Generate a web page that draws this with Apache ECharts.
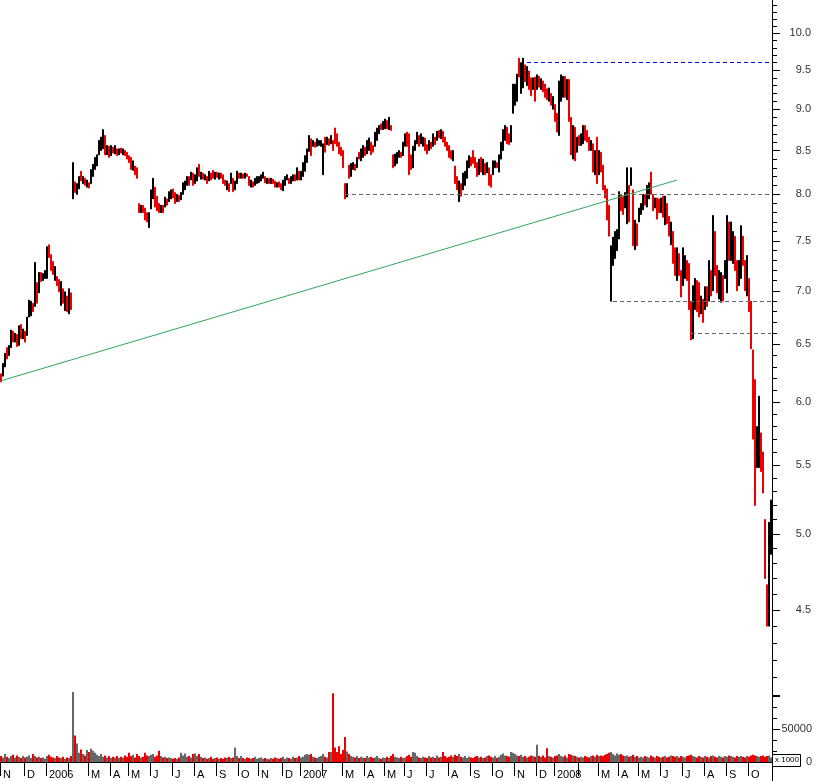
<!DOCTYPE html>
<html><head><meta charset="utf-8">
<script src="https://cdn.jsdelivr.net/npm/echarts@6/dist/echarts.min.js"></script>
<style>html,body{margin:0;padding:0;background:#fff}#c{width:817px;height:781px}</style>
</head><body><div id="c"></div>
<script>
// ---- data (one bar per ~2 trading days, Nov 2005 - Oct 2008) ----
const opens=[
6.24,6.22,6.30,6.47,6.40,6.47,6.62,6.52,6.59,6.49,
6.68,6.55,6.62,6.58,6.75,6.76,6.88,6.85,7.08,6.98,
7.18,7.10,7.12,7.12,7.46,7.36,7.29,7.10,7.14,7.11,
6.86,7.02,6.81,6.95,6.78,6.98,7.95,8.14,8.00,8.06,
8.26,8.12,8.18,8.08,8.13,8.12,8.20,8.28,8.32,8.45,
8.50,8.52,8.68,8.45,8.55,8.44,8.54,8.46,8.52,8.45,
8.53,8.45,8.50,8.48,8.44,8.42,8.27,8.32,8.30,7.90,
7.80,7.88,7.85,7.80,7.64,7.84,7.95,8.08,7.98,7.90,
7.80,7.88,7.86,7.95,7.92,7.95,8.06,8.02,7.92,7.99,
7.94,8.00,8.05,8.10,8.20,8.16,8.24,8.12,8.15,8.34,
8.17,8.24,8.16,8.20,8.15,8.24,8.27,8.17,8.25,8.17,
8.24,8.22,8.16,8.05,8.12,8.12,8.18,8.05,8.12,8.24,
8.18,8.23,8.18,8.23,8.20,8.08,8.14,8.10,8.12,8.13,
8.15,8.18,8.20,8.12,8.18,8.12,8.17,8.15,8.08,8.14,
8.12,8.04,8.10,8.16,8.18,8.12,8.15,8.22,8.16,8.26,
8.16,8.20,8.26,8.36,8.49,8.64,8.55,8.60,8.55,8.56,
8.55,8.22,8.66,8.57,8.64,8.58,8.62,8.77,8.70,8.60,
8.54,8.50,8.12,7.97,8.33,8.20,8.28,8.34,8.30,8.48,
8.38,8.42,8.54,8.46,8.50,8.60,8.56,8.55,8.62,8.70,
8.82,8.75,8.76,8.86,8.75,8.80,8.45,8.32,8.35,8.42,
8.48,8.44,8.55,8.72,8.70,8.45,8.30,8.50,8.58,8.68,
8.58,8.55,8.65,8.57,8.50,8.60,8.55,8.66,8.62,8.74,
8.64,8.73,8.66,8.60,8.56,8.50,8.38,8.32,8.20,7.92,
8.12,8.05,8.10,8.18,8.30,8.42,8.50,8.42,8.36,8.22,
8.42,8.22,8.35,8.24,8.30,8.22,8.22,8.30,8.36,8.25,
8.40,8.50,8.62,8.78,8.70,8.60,8.95,9.05,9.10,9.66,
9.20,9.27,9.57,9.30,9.49,9.40,9.25,9.41,9.25,9.42,
9.25,9.36,9.32,9.26,9.10,9.20,9.00,9.06,8.95,8.68,
9.10,9.15,9.42,9.12,9.38,8.90,8.40,8.78,8.48,8.68,
8.56,8.58,8.80,8.74,8.66,8.50,8.58,8.22,8.66,8.22,
8.48,8.33,8.10,8.06,7.88,6.90,7.25,7.32,7.40,7.52,
8.00,7.98,7.85,7.68,8.10,8.10,8.05,7.41,7.68,7.70,
7.78,7.83,8.00,7.86,7.95,8.25,8.00,7.85,7.96,7.95,
7.80,7.98,7.67,7.90,7.76,7.46,7.60,7.43,7.10,7.37,
7.20,7.05,7.12,7.30,7.27,6.90,6.55,6.82,7.10,7.08,
6.78,6.92,6.82,7.04,6.90,7.20,7.00,7.60,7.25,6.92,
6.89,7.15,7.12,6.98,7.70,7.30,7.27,7.55,7.30,7.05,
7.12,7.55,7.30,6.95,7.12,6.90,6.45,6.19,5.48,5.48,
5.75,5.60,5.10,4.66,4.40,4.86];
const closes=[
6.17,6.33,6.42,6.37,6.49,6.63,6.52,6.60,6.48,6.67,
6.55,6.64,6.52,6.75,6.91,6.90,6.80,7.28,6.88,7.18,
7.09,7.17,7.20,7.44,7.33,7.20,7.16,7.24,7.05,6.99,
7.09,6.88,6.99,6.80,7.02,6.82,8.36,8.02,8.12,8.20,
8.15,8.20,8.10,8.16,8.07,8.28,8.34,8.42,8.45,8.62,
8.66,8.75,8.45,8.56,8.42,8.56,8.47,8.56,8.44,8.52,
8.47,8.52,8.44,8.40,8.36,8.28,8.38,8.22,8.18,7.80,
7.88,7.80,7.72,7.70,7.80,8.05,8.18,7.86,7.82,7.80,
7.88,7.80,7.97,7.88,8.03,8.05,7.96,7.90,8.00,7.92,
8.02,8.13,8.15,8.20,8.10,8.25,8.10,8.22,8.30,8.20,
8.25,8.17,8.22,8.12,8.26,8.16,8.18,8.25,8.19,8.24,
8.18,8.12,8.10,8.15,8.03,8.24,8.03,8.15,8.26,8.18,
8.24,8.18,8.24,8.20,8.10,8.16,8.08,8.18,8.20,8.20,
8.22,8.25,8.13,8.18,8.12,8.18,8.12,8.08,8.13,8.08,
8.05,8.16,8.20,8.22,8.12,8.20,8.22,8.15,8.30,8.16,
8.26,8.36,8.44,8.52,8.68,8.44,8.62,8.54,8.64,8.62,
8.62,8.58,8.48,8.66,8.56,8.68,8.50,8.58,8.55,8.46,
8.44,8.30,7.95,8.12,8.18,8.35,8.36,8.27,8.42,8.40,
8.52,8.56,8.44,8.62,8.65,8.45,8.48,8.72,8.77,8.80,
8.75,8.85,8.88,8.76,8.90,8.74,8.30,8.46,8.48,8.50,
8.42,8.60,8.70,8.55,8.22,8.28,8.55,8.62,8.72,8.55,
8.70,8.66,8.50,8.46,8.62,8.52,8.70,8.57,8.73,8.65,
8.75,8.60,8.55,8.50,8.42,8.40,8.50,8.12,8.05,8.15,
7.98,8.24,8.26,8.38,8.44,8.32,8.35,8.30,8.20,8.40,
8.25,8.40,8.22,8.36,8.10,8.08,8.38,8.38,8.30,8.45,
8.60,8.75,8.80,8.58,8.57,8.80,9.32,9.32,9.45,9.41,
9.60,9.66,9.35,9.55,9.25,9.17,9.40,9.10,9.44,9.28,
9.39,9.22,9.15,9.12,9.27,9.05,9.16,8.85,8.72,9.36,
9.44,9.42,9.15,9.38,8.85,8.45,8.80,8.38,8.66,8.56,
8.70,8.80,8.62,8.60,8.50,8.62,8.25,8.50,8.12,8.50,
8.25,8.05,7.96,7.72,7.55,7.45,7.54,7.60,7.62,8.03,
7.82,7.78,8.02,8.30,7.70,8.30,7.45,7.72,7.45,7.85,
7.90,8.00,7.88,8.10,8.13,8.00,7.82,7.96,7.73,7.80,
7.96,7.75,7.98,7.68,7.55,7.70,7.27,7.15,7.43,7.15,
6.94,7.43,7.35,7.10,6.82,6.54,7.05,7.12,6.80,6.75,
6.95,6.70,7.04,6.85,7.30,6.95,7.77,7.15,6.98,7.20,
7.18,6.90,7.30,7.77,7.30,7.70,7.60,7.20,7.00,7.30,
7.66,7.25,7.00,7.35,6.80,6.46,5.70,5.20,5.80,6.05,
5.45,5.29,4.70,4.40,5.08,5.24];
const volumes=[
9000,7000,12000,8000,6000,9000,11000,7000,10000,8000,
6000,9000,7000,8000,10000,6000,12000,9000,7000,8000,
6000,7000,5000,9000,11000,8000,7000,6000,9000,7000,
6000,8000,5000,7000,6000,9000,106000,40000,28000,14000,
19000,12000,10000,18000,15000,20000,17000,14000,11000,9000,
12000,8000,10000,7000,9000,6000,8000,7000,9000,6000,
8000,7000,10000,8000,14000,9000,11000,7000,12000,9000,
7000,8000,14000,10000,9000,11000,12000,8000,10000,17000,
9000,7000,8000,6000,7000,6000,5000,6000,5000,7000,
14000,10000,13000,8000,9000,7000,12000,13000,9000,12000,
8000,6000,7000,5000,6000,8000,5000,6000,7000,5000,
6000,5000,7000,6000,8000,6000,7000,22000,9000,6000,
9000,6000,5000,7000,6000,5000,6000,8000,5000,6000,
7000,5000,6000,5000,4000,6000,5000,7000,6000,5000,
6000,8000,5000,7000,6000,5000,8000,6000,7000,9000,
7000,8000,11000,12000,11000,12000,8000,7000,6000,8000,
9000,12000,8000,7000,15000,15000,104000,22000,15000,24000,
12000,18000,38000,16000,12000,9000,8000,7000,9000,6000,
8000,7000,6000,9000,7000,8000,6000,7000,9000,6000,
5000,7000,6000,8000,6000,9000,12000,8000,7000,6000,
8000,6000,7000,9000,11000,8000,15000,14000,9000,7000,
6000,8000,7000,6000,9000,7000,8000,6000,10000,7000,
8000,15000,9000,7000,8000,10000,8000,11000,9000,12000,
8000,7000,9000,6000,8000,7000,6000,8000,9000,7000,
8000,6000,7000,9000,10000,8000,7000,9000,6000,8000,
11000,13000,10000,9000,8000,15000,14000,12000,10000,9000,
11000,8000,9000,7000,8000,10000,9000,8000,26000,9000,
8000,10000,7000,21000,9000,8000,7000,9000,10000,12000,
9000,8000,10000,7000,12000,11000,10000,9000,8000,7000,
8000,7000,9000,8000,7000,9000,10000,8000,11000,9000,
10000,9000,11000,12000,14000,15000,12000,10000,13000,11000,
12000,10000,9000,10000,8000,9000,11000,8000,9000,7000,
8000,7000,9000,8000,7000,10000,8000,7000,9000,8000,
7000,8000,9000,7000,8000,10000,9000,8000,9000,7000,
9000,8000,7000,9000,10000,11000,9000,8000,7000,9000,
8000,7000,9000,8000,7000,9000,10000,8000,7000,9000,
8000,7000,9000,8000,10000,9000,8000,7000,9000,8000,
9000,8000,7000,9000,8000,10000,11000,10000,9000,8000,
9000,10000,8000,9000,10000,7000];
// month boundaries (bar index) and their labels
const monthTickIdx=[0,12,23,34,44,55,64,75,86,97,108,119,129,141,150,161,171,182,192,202,213,224,235,246,257,268,277,289,299,309,319,330,341,352,363,374];
const monthTickLabels=['N','D','2006','','M','A','M','J','J','A','S','O','N','D','2007','','M','A','M','J','J','A','S','O','N','D','2008','','M','A','M','J','J','A','S','O'];
const priceTickLabels=[4.5,5.0,5.5,6.0,6.5,7.0,7.5,8.0,8.5,9.0,9.5,10.0];
const volumeTickLabels=[0,50000];
// drawn lines: trend line (bar index, price) and horizontal levels
const trendStart=[0,6.18];
const trendEnd=[338,8.16];
const levelValues=[9.61,8.0,6.9,6.6];
const levelStartIdx=[263,172,306,345];

const n=opens.length;
const cats=opens.map((_,i)=>String(i));
const labelOf={};
monthTickIdx.forEach((k,j)=>{labelOf[k]=monthTickLabels[j];});
const isTick=i=>labelOf[i]!==undefined;
const candles=opens.map((o,i)=>[o,closes[i],Math.min(o,closes[i]),Math.max(o,closes[i])]);
const RED='#ee0000',BLK='#000000',GRAY='#666666';
const majorPrice=[4.0].concat(priceTickLabels);
const minorPrice=[];
for(let v=40;v<=104;v++){ if(v%5!==0) minorPrice.push(v/10); }
const levelColors=['#0000ff','#666666','#666666','#666666'];
const FONT='Liberation Sans, Arial, sans-serif';

const chart=echarts.init(document.getElementById('c'),null,{renderer:'canvas'});
chart.setOption({
  animation:false,
  backgroundColor:'#ffffff',
  grid:[
    {left:0,right:45,top:0,bottom:86},
    {left:0,right:45,top:690,bottom:19}
  ],
  xAxis:[
    {type:'category',gridIndex:0,data:cats,show:false,boundaryGap:true},
    {type:'category',gridIndex:1,data:cats,boundaryGap:true,offset:5,
     axisLine:{show:true,lineStyle:{color:'#000',width:1}},
     axisTick:{show:true,interval:(i)=>isTick(i),length:14,lineStyle:{color:'#000',width:1}},
     axisLabel:{show:true,interval:(i)=>isTick(i),formatter:(v,i)=>labelOf[i]||'',align:'left',margin:2,
       padding:[0,0,0,2],fontSize:11,color:'#000',fontFamily:FONT},
     splitLine:{show:false}}
  ],
  yAxis:[
    {type:'log',logBase:10,gridIndex:0,position:'right',min:4.0,max:10.47,
     axisLine:{show:true,lineStyle:{color:'#000',width:1}},
     axisTick:{show:true,customValues:majorPrice,length:8,lineStyle:{color:'#000'}},
     axisLabel:{show:true,customValues:priceTickLabels,formatter:(v)=>Number(v).toFixed(1),align:'right',margin:39,
       fontSize:11,color:'#333',fontFamily:FONT},
     splitLine:{show:false}},
    {type:'log',logBase:10,gridIndex:0,position:'right',min:4.0,max:10.47,
     axisLine:{show:false},
     axisTick:{show:true,customValues:minorPrice,length:5,lineStyle:{color:'#000'}},
     axisLabel:{show:false},splitLine:{show:false}},
    {type:'value',gridIndex:1,position:'right',min:0,max:109000,
     axisLine:{show:true,lineStyle:{color:'#000',width:1}},
     axisTick:{show:true,customValues:[0,50000,100000],length:8,lineStyle:{color:'#000'}},
     axisLabel:{show:true,customValues:volumeTickLabels,formatter:(v)=>String(Math.round(v)),align:'right',margin:40,
       fontSize:11,color:'#333',fontFamily:FONT},
     splitLine:{show:false}},
    {type:'value',gridIndex:1,position:'right',min:0,max:109000,
     axisLine:{show:false},
     axisTick:{show:true,customValues:[16667,33333,66667,83333],length:5,lineStyle:{color:'#000'}},
     axisLabel:{show:false},splitLine:{show:false}}
  ],
  series:[
    {type:'candlestick',xAxisIndex:0,yAxisIndex:0,data:candles,barWidth:2,silent:true,
     itemStyle:{color:BLK,color0:RED,borderColor:BLK,borderColor0:RED,borderWidth:1,opacity:1},
     markLine:{symbol:['none','none'],silent:true,animation:false,label:{show:false},
       data:[
         [{coord:[trendStart[0],trendStart[1]],lineStyle:{color:'#2ea85a',width:1,type:'solid'}},{coord:[trendEnd[0],trendEnd[1]]}]
       ].concat(levelValues.map((v,k)=>[
         {coord:[levelStartIdx[k],v],lineStyle:{color:levelColors[k],width:1,type:[4,3]}},
         {coord:[n-1,v]}
       ]))
     }},
    {type:'bar',xAxisIndex:1,yAxisIndex:2,barWidth:2,silent:true,
     data:volumes.map((v,i)=>({value:v,itemStyle:{color:closes[i]>=opens[i]?GRAY:RED}}))}
  ],
  graphic:[
    {type:'rect',left:772,top:754,shape:{width:28,height:12},style:{fill:'#fff',stroke:'#000',lineWidth:1},z:100},
    {type:'text',left:775,top:756,style:{text:'x 1000',fontSize:8,fill:'#000',fontFamily:FONT},z:101},
    {type:'line',shape:{x1:772.5,y1:762,x2:772.5,y2:781},style:{stroke:'#000',lineWidth:1},z:100}
  ]
});
</script>
</body></html>
